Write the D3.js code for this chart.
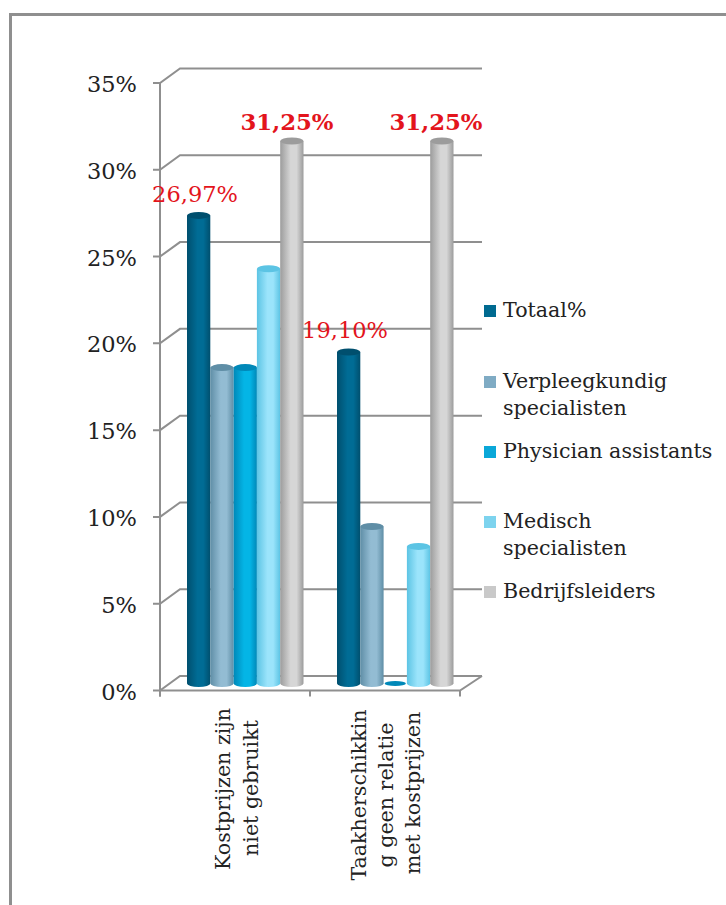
<!DOCTYPE html>
<html><head><meta charset="utf-8">
<script src="https://cdn.jsdelivr.net/npm/d3@7"></script>
<style>html,body{margin:0;padding:0;background:#fff}svg{display:block}text{font-family:"DejaVu Serif",serif;fill:#222}</style>
</head><body><svg id="c" width="726" height="905"></svg>
<script>
const categories=[["Kostprijzen zijn","niet gebruikt"],["Taakherschikkin","g geen relatie","met kostprijzen"]];
const seriesNames=["Totaal%","Verpleegkundig specialisten","Physician assistants","Medisch specialisten","Bedrijfsleiders"];
const totaal=[26.97,19.10];
const verpleegkundig=[18.2,9.05];
const physician=[18.2,0];
const medisch=[23.9,7.9];
const bedrijfsleiders=[31.25,31.25];
const allSeries=[totaal,verpleegkundig,physician,medisch,bedrijfsleiders];
const colors=[["#004f6e","#006c95","#004f6e"],["#5f8ea6","#93bcd3","#5f8ea6"],["#0088b8","#04b5e6","#0088b8"],["#5cc4e4","#9be4fb","#5cc4e4"],["#9c9c9c","#d6d6d6","#9c9c9c"]];
const legendColors=["#006a90","#7fabc4","#0aa7d8","#7dd3ee","#c9c9c9"];
const yTicks=[0,5,10,15,20,25,30,35];
const labels=[{s:0,c:0,t:"26,97%",bold:false},{s:4,c:0,t:"31,25%",bold:true},{s:0,c:1,t:"19,10%",bold:false},{s:4,c:1,t:"31,25%",bold:true}];

const svg=d3.select("#c");
const grey="#8f8f8f";
svg.append("path").attr("d","M10.5 905V14.5H726").attr("fill","none").attr("stroke",grey).attr("stroke-width",3);

const y=d3.scaleLinear().domain([0,35]).range([690.5,83]);
const x=d3.scaleBand().domain([0,1]).range([160,460]);
const bx=d3.scaleBand().domain(d3.range(5)).range([0,116.5]);
const depthX=20,depthY=-14.5,barLift=-7,barInset=27;

const g=svg.append("g").attr("fill","none").attr("stroke",grey).attr("stroke-width",2);
yTicks.forEach(t=>{
  const p=y(t);
  g.append("path").attr("d",`M${160-7} ${p}H160l${depthX} ${depthY}H482`);
});
g.append("path").attr("d",`M160 ${y(35)}V${y(0)+6}`);
g.append("path").attr("d",`M160 ${y(0)}H460l22 ${depthY}`);
[160,310,460].forEach(v=>g.append("path").attr("d",`M${v} ${y(0)}v6`));

const defs=svg.append("defs");
colors.forEach((c,i)=>{
  const lg=defs.append("linearGradient").attr("id","b"+i);
  [[0,c[0]],[.45,c[1]],[.7,c[1]],[1,c[0]]].forEach(s=>lg.append("stop").attr("offset",s[0]).attr("stop-color",s[1]));
});

categories.forEach((_,c)=>{
  allSeries.forEach((vals,s)=>{
    const v=vals[c], left=x(c)+barInset+bx(s), w=bx.bandwidth(), rx=w/2, ry=3.5;
    const top=y(v)+barLift, base=y(0)+barLift;
    const gb=svg.append("g");
    if(v>0){
      gb.append("path").attr("d",`M${left} ${top}V${base}A${rx} ${ry} 0 0 0 ${left+w} ${base}V${top}Z`).attr("fill",`url(#b${s})`);
      gb.append("ellipse").attr("cx",left+rx).attr("cy",top).attr("rx",rx).attr("ry",ry).attr("fill",colors[s][0]);
    }else{
      gb.append("ellipse").attr("cx",left+rx).attr("cy",base).attr("rx",rx-1).attr("ry",2.5).attr("fill",colors[s][2]);
    }
  });
});

yTicks.forEach(t=>svg.append("text").attr("x",137).attr("y",y(t)+9).attr("text-anchor","end").attr("font-size",22.5).text(t+"%"));

const catBase=[[230,258],[366,393,420]];
const catMid=[[789,788],[795,795,793]];
categories.forEach((lines,c)=>{
  lines.forEach((l,i)=>{
    svg.append("text").attr("transform",`translate(${catBase[c][i]},${catMid[c][i]}) rotate(-90)`)
      .attr("text-anchor","middle").attr("font-size",20.6).text(l);
  });
});

const labelPos=[[195,202],[287,130],[345,338],[436,130]];
labels.forEach((d,i)=>{
  svg.append("text").attr("x",labelPos[i][0]).attr("y",labelPos[i][1]).attr("text-anchor","middle")
    .attr("font-size",d.bold?22.8:22.5).attr("font-weight",d.bold?700:400).style("fill","#e3141c").text(d.t);
});

const legendY=[311,382,452,522,592];
const legendLines=[["Totaal%"],["Verpleegkundig","specialisten"],["Physician assistants"],["Medisch","specialisten"],["Bedrijfsleiders"]];
seriesNames.forEach((n,i)=>{
  svg.append("rect").attr("x",484).attr("y",legendY[i]-6).attr("width",12).attr("height",12).attr("fill",legendColors[i]);
  legendLines[i].forEach((l,j)=>svg.append("text").attr("x",503).attr("y",legendY[i]+6+j*26.5).attr("font-size",20.6).text(l));
});
</script></body></html>
